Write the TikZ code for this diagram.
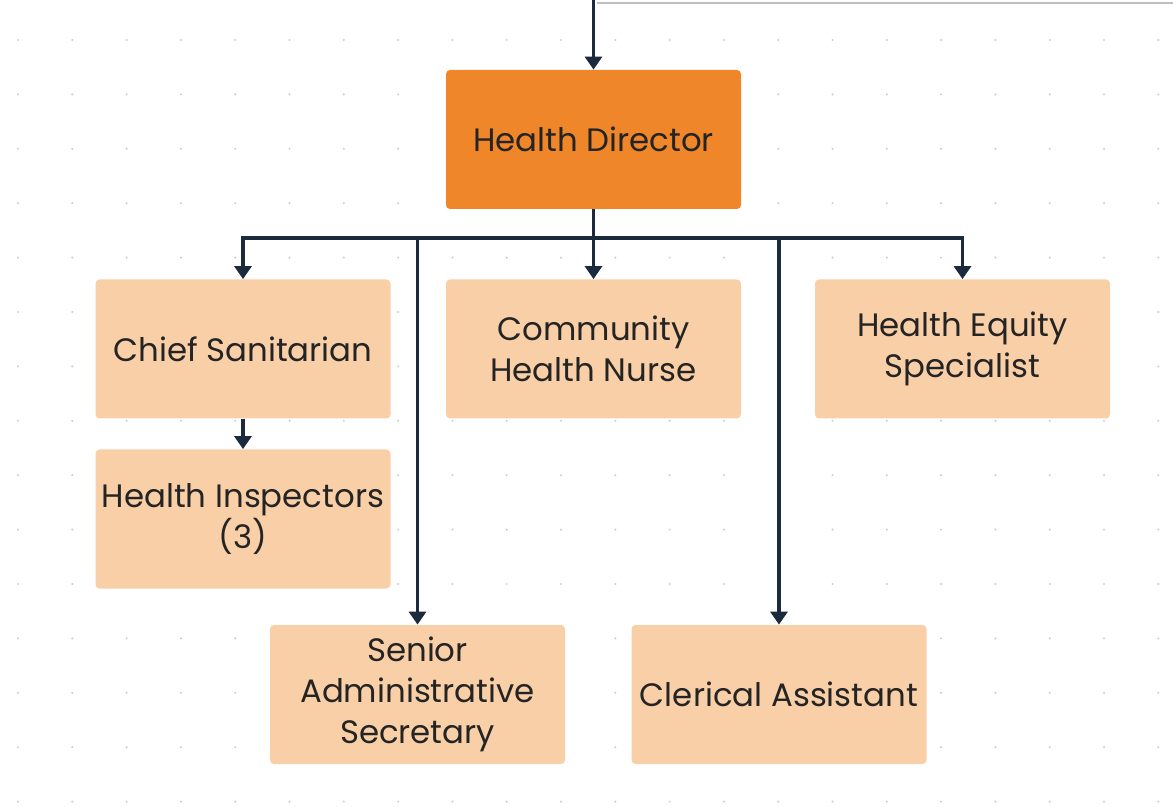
\documentclass[tikz,border=0pt]{standalone}
\usepackage{fontspec}
\setmainfont{Poppins}
\usetikzlibrary{arrows.meta}
\definecolor{hdorange}{HTML}{F0862A}
\definecolor{staffpeach}{HTML}{F9CFA7}
\definecolor{linknavy}{HTML}{1B2A3D}
\definecolor{textgray}{HTML}{242424}
\definecolor{dotgray}{HTML}{D0D0D0}

\begin{document}
\begin{tikzpicture}[x=0.5pt, y=-0.5pt,
  every node/.style={font=\fontsize{16.2}{20.5}\selectfont, text=textgray, align=center},
  staff/.style={rectangle, rounded corners=2pt, fill=staffpeach, minimum width=147.5pt, minimum height=69.5pt, inner sep=0pt},
  head/.style={staff, fill=hdorange},
  link/.style={draw=linknavy, line width=1.6pt},
  arr/.style={link, -{Triangle[width=8.5pt,length=6.5pt]}}]
\useasboundingbox (0,0) rectangle (1173,807);

% Background dot grid
\foreach \i in {0,...,21}
  \foreach \j in {0,...,14}
    \fill[dotgray] (18+\i*54.3, 40+\j*54.4) circle (1.2);

% Boxes
\node[head] (hd) at (593.5,139.5) {Health Director};
\node[staff] (chief) at (243,349) {Chief Sanitarian};
\node[staff] (nurse) at (593.5,349) {Community\\Health Nurse};
\node[staff] (equity) at (962.5,349) {Health Equity\\Specialist};
\node[staff] (insp) at (243,519) {Health Inspectors\\(3)};
\node[staff] (senior) at (417.5,694.5) {Senior\\Administrative\\Secretary};
\node[staff] (clerk) at (779,694.5) {Clerical Assistant};

% Feed from above
\coordinate (feed) at (593.5,0);
\coordinate (ftop) at (597,3);
\coordinate (fend) at (1173,3);
\draw[gray!50, line width=0.8pt] (ftop) -- (fend);
\draw[arr] (feed) -- (hd.north);

% Reporting lines
\coordinate (bus) at (593.5,238);
\draw[link] (hd.south) -- (bus);
\draw[arr] (bus) -| (chief.north);
\draw[arr] (bus) -| (equity.north);
\draw[arr] (bus) -- (nurse.north);
\draw[arr] (bus -| senior.north) -- (senior.north);
\draw[arr] (bus -| clerk.north) -- (clerk.north);
\draw[arr] (chief.south) -- (insp.north);
\end{tikzpicture}
\end{document}
